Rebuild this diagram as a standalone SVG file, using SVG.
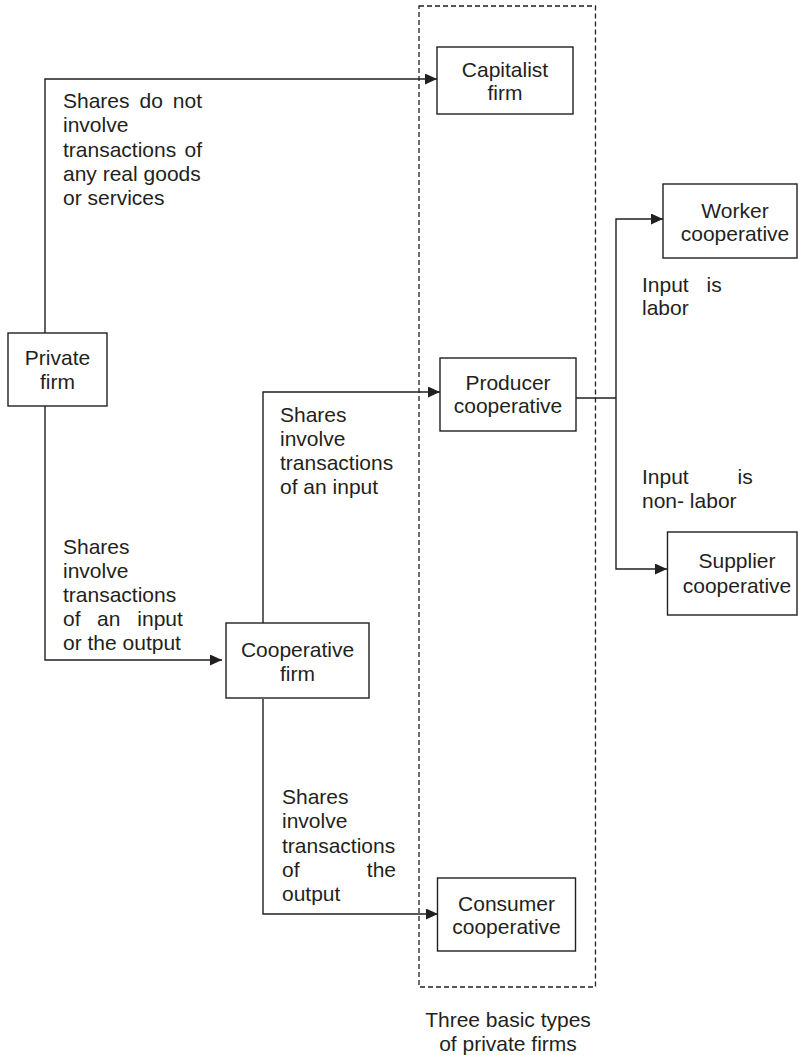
<svg xmlns="http://www.w3.org/2000/svg" width="798" height="1055" viewBox="0 0 798 1055">
<style>
text{font-family:"Liberation Sans",Arial,Helvetica,sans-serif;font-size:21px;fill:#231f20}
.c{text-anchor:middle}
.box{fill:#fff;stroke:#231f20;stroke-width:1.4}
.ln{fill:none;stroke:#231f20;stroke-width:1.4}
.dash{fill:none;stroke:#231f20;stroke-width:1.3;stroke-dasharray:5,3}
</style>
<defs>
<marker id="ah" markerUnits="userSpaceOnUse" markerWidth="13" markerHeight="12" refX="12" refY="5.5" orient="auto">
<path d="M0,0 L12,5.5 L0,11 z" fill="#231f20"/>
</marker>
</defs>
<rect width="798" height="1055" fill="#fff"/>
<g id="group-basic-types">
<rect class="dash" x="419" y="6" width="176.5" height="981"/>
<text class="c" x="508" y="1027">Three basic types</text>
<text class="c" x="508" y="1051">of private firms</text>
</g>
<g id="connectors">
<polyline class="ln" points="45,333 45,79 437,79" marker-end="url(#ah)"/>
<polyline class="ln" points="45,406 45,660 222,660" marker-end="url(#ah)"/>
<polyline class="ln" points="263,623 263,392 440,392" marker-end="url(#ah)"/>
<polyline class="ln" points="263,699 263,914 438,914" marker-end="url(#ah)"/>
<polyline class="ln" points="576,398 616,398"/>
<polyline class="ln" points="616,398 616,219 663,219" marker-end="url(#ah)"/>
<polyline class="ln" points="616,398 616,569 667,569" marker-end="url(#ah)"/>
</g>
<g id="labels">
<text><tspan x="63" y="108">Shares</tspan><tspan x="139.5" y="108">do</tspan><tspan x="172.8" y="108">not</tspan></text>
<text x="63" y="132">involve</text>
<text><tspan x="63" y="157">transactions</tspan><tspan x="184.5" y="157">of</tspan></text>
<text x="63" y="181">any real goods</text>
<text x="63" y="205">or services</text>

<text x="63" y="554">Shares</text>
<text x="63" y="578">involve</text>
<text x="63" y="602">transactions</text>
<text><tspan x="63" y="626">of</tspan><tspan x="97" y="626">an</tspan><tspan x="137.3" y="626">input</tspan></text>
<text x="63" y="650">or the output</text>

<text x="280" y="422">Shares</text>
<text x="280" y="446">involve</text>
<text x="280" y="470">transactions</text>
<text x="280" y="494">of an input</text>

<text x="282" y="804">Shares</text>
<text x="282" y="828">involve</text>
<text x="282" y="853">transactions</text>
<text><tspan x="282" y="877">of</tspan><tspan x="366.8" y="877">the</tspan></text>
<text x="282" y="901">output</text>

<text><tspan x="642" y="292">Input</tspan><tspan x="706.5" y="292">is</tspan></text>
<text x="642" y="315">labor</text>

<text><tspan x="642" y="484">Input</tspan><tspan x="737.5" y="484">is</tspan></text>
<text x="642" y="508">non- labor</text>
</g>
<g id="node-private">
<rect class="box" x="8" y="333" width="99" height="73"/>
<text class="c" x="57.5" y="365">Private</text>
<text class="c" x="57.5" y="389">firm</text>
</g>
<g id="node-capitalist">
<rect class="box" x="437" y="47" width="136" height="67"/>
<text class="c" x="505" y="77">Capitalist</text>
<text class="c" x="505" y="100">firm</text>
</g>
<g id="node-producer">
<rect class="box" x="440" y="358" width="136" height="73"/>
<text class="c" x="508" y="390">Producer</text>
<text class="c" x="508" y="413">cooperative</text>
</g>
<g id="node-cooperative">
<rect class="box" x="226" y="623" width="143" height="75"/>
<text class="c" x="297.5" y="657">Cooperative</text>
<text class="c" x="297.5" y="681">firm</text>
</g>
<g id="node-consumer">
<rect class="box" x="437.5" y="878" width="138" height="73"/>
<text class="c" x="506.5" y="911">Consumer</text>
<text class="c" x="506.5" y="934">cooperative</text>
</g>
<g id="node-worker">
<rect class="box" x="663" y="184" width="134" height="74"/>
<text class="c" x="735" y="218">Worker</text>
<text class="c" x="735" y="241">cooperative</text>
</g>
<g id="node-supplier">
<rect class="box" x="667.5" y="532" width="129.5" height="83"/>
<text class="c" x="737" y="568">Supplier</text>
<text class="c" x="737" y="593">cooperative</text>
</g>
</svg>
